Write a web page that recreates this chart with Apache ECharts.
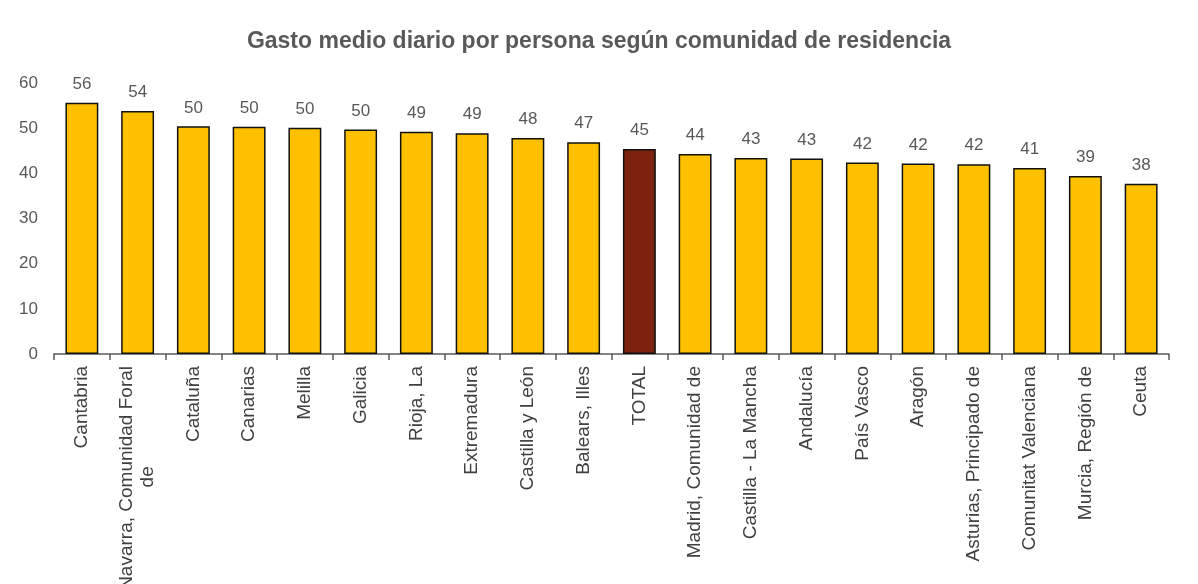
<!DOCTYPE html>
<html>
<head>
<meta charset="utf-8">
<script src="https://cdn.jsdelivr.net/npm/echarts@6/dist/echarts.min.js"></script>
<style>
  html, body { margin: 0; padding: 0; background: #fff; }
  #chart { width: 1198px; height: 584px; }
</style>
</head>
<body>
<div id="chart"></div>
<script>
var categories = [
  "Cantabria", "Navarra, Comunidad Foral\nde                   ", "Cataluña", "Canarias", "Melilla",
  "Galicia", "Rioja, La", "Extremadura", "Castilla y León", "Balears, Illes",
  "TOTAL", "Madrid, Comunidad de", "Castilla - La Mancha", "Andalucía", "País Vasco",
  "Aragón", "Asturias, Principado de", "Comunitat Valenciana", "Murcia, Región de", "Ceuta"
];
var gasto = [55.6, 53.8, 50.4, 50.3, 50.1, 49.7, 49.2, 48.9, 47.8, 46.9,
  45.4, 44.3, 43.4, 43.3, 42.4, 42.2, 42.0, 41.2, 39.4, 37.7];
var yTicks = [0, 10, 20, 30, 40, 50, 60];

var myChart = echarts.init(document.getElementById("chart"));
var option;

option = {
  backgroundColor: "#fff",
  title: {
    text: "Gasto medio diario por persona según comunidad de residencia",
    left: "center",
    top: 25,
    textStyle: {
      fontFamily: "Liberation Sans, Arial",
      fontSize: 23,
      fontWeight: "bold",
      color: "#595959",
    },
  },
  grid: {
    left: 54,
    right: 29,
    top: 83,
    bottom: 230,
    containLabel: false,
    outerBoundsMode: "none",
  },
  xAxis: {
    type: "category",
    data: categories,
    axisLine: { lineStyle: { color: "#595959", width: 1.5 } },
    axisTick: { show: true, length: 6, lineStyle: { color: "#595959", width: 1.5 } },
    axisLabel: {
      rotate: 90,
      interval: 0,
      margin: 12,
      fontFamily: "Liberation Sans, Arial",
      fontSize: 19,
      color: "#404040",
      lineHeight: 21,
    },
  },
  yAxis: {
    type: "value",
    min: yTicks[0],
    max: yTicks[yTicks.length - 1],
    interval: 10,
    splitLine: { show: false },
    axisLine: { show: false },
    axisTick: { show: false },
    axisLabel: {
      margin: 16,
      fontFamily: "Liberation Sans, Arial",
      fontSize: 17,
      color: "#595959",
    },
  },
  series: [
    {
      type: "bar",
      barWidth: "59%",
      data: gasto.map(function (v, i) {
        return {
          value: v,
          itemStyle: {
            color: categories[i] === "TOTAL" ? "#7B230F" : "#FFC000",
          },
        };
      }),
      itemStyle: {
        borderColor: "#111",
        borderWidth: 1.5,
      },
      label: {
        show: true,
        position: "top",
        distance: 10,
        fontFamily: "Liberation Sans, Arial",
        fontSize: 17,
        color: "#595959",
        formatter: function (p) {
          return Math.round(p.value);
        },
      },
      animation: false,
    },
  ],
};

option && myChart.setOption(option);
</script>
</body>
</html>
